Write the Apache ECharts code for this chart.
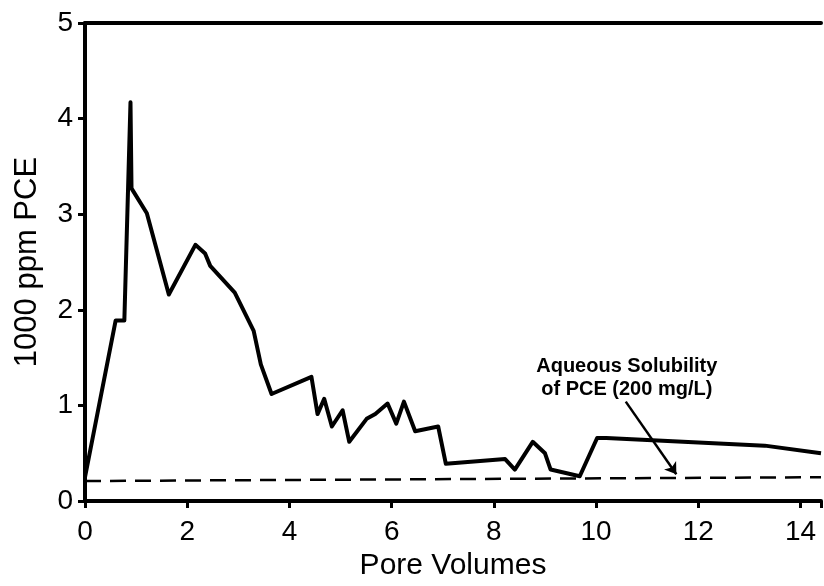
<!doctype html>
<html>
<head>
<meta charset="utf-8">
<script src="https://cdn.jsdelivr.net/npm/echarts@6/dist/echarts.min.js"></script>
<style>
    html, body {margin: 0;padding: 0;background: #fff;}
    #chart {width: 824px;height: 586px;}
</style>
</head>
<body>
<div id="chart"></div>
<script>
    // pore volumes vs PCE concentration (1000 ppm)
    var poreVolumes = [0, 0.6, 0.77, 0.89, 0.91, 1.21, 1.64, 2.16, 2.35, 2.45, 2.93, 3.30, 3.44, 3.65,
        4.43, 4.55, 4.68, 4.83, 5.04, 5.17, 5.51, 5.68, 5.92, 6.09, 6.24, 6.46, 6.91, 7.06,
        8.22, 8.41, 8.76, 9.0, 9.11, 9.68, 10.02, 10.2, 13.3, 14.4];
    var pce = [0.25, 1.89, 1.89, 4.17, 3.27, 3.01, 2.16, 2.68, 2.59, 2.46, 2.18, 1.78, 1.43, 1.12,
        1.30, 0.91, 1.07, 0.78, 0.95, 0.62, 0.86, 0.91, 1.02, 0.81, 1.04, 0.73, 0.78, 0.39,
        0.44, 0.33, 0.62, 0.50, 0.33, 0.26, 0.66, 0.66, 0.58, 0.50];
    // aqueous solubility line (200 mg/L)
    var solX = [0, 14.4];
    var solY = [0.21, 0.25];
    var xTicks = [0, 2, 4, 6, 8, 10, 12, 14];
    var yTicks = [0, 1, 2, 3, 4, 5];
    var noteLines = ['Aqueous Solubility', 'of PCE (200 mg/L)'];

    var font = '"Liberation Sans", Arial, sans-serif';
    var mainData = poreVolumes.map(function (x, i) { return [x, pce[i]]; });
    var solData = solX.map(function (x, i) { return [x, solY[i]]; });

    var myChart = echarts.init(document.getElementById('chart'));
    var option = {
        backgroundColor: '#fff',
        animation: false,
        grid: {left: 85, right: 1, top: 23, bottom: 81},
        xAxis: [{
            type: 'value',
            min: 0,
            max: 14.4,
            interval: 2,
            name: 'Pore Volumes',
            nameLocation: 'middle',
            nameGap: 48,
            nameTextStyle: {color: '#000', fontSize: 30, fontFamily: font},
            axisLine: {lineStyle: {color: '#000', width: 4}},
            axisTick: {show: true, length: 7, lineStyle: {color: '#000', width: 3}},
            axisLabel: {
                color: '#000', fontSize: 28, fontFamily: font, margin: 17,
                formatter: function (v) { return xTicks.indexOf(v) >= 0 ? String(v) : ''; }
            },
            splitLine: {show: false}
        }, {
            type: 'value',
            position: 'top',
            min: 0,
            max: 14.4,
            axisLine: {show: true, lineStyle: {color: '#000', width: 4}},
            axisTick: {show: false},
            axisLabel: {show: false},
            splitLine: {show: false}
        }],
        yAxis: {
            type: 'value',
            min: 0,
            max: 5,
            interval: 1,
            name: '1000 ppm PCE',
            nameLocation: 'middle',
            nameGap: 42,
            nameTextStyle: {color: '#000', fontSize: 31, fontFamily: font},
            axisLine: {show: true, lineStyle: {color: '#000', width: 4}},
            axisTick: {show: true, length: 7, lineStyle: {color: '#000', width: 3}},
            axisLabel: {
                color: '#000', fontSize: 28, fontFamily: font, margin: 12,
                formatter: function (v) { return yTicks.indexOf(v) >= 0 ? String(v) : ''; }
            },
            splitLine: {show: false}
        },
        series: [{
            type: 'line',
            data: mainData,
            showSymbol: false,
            lineStyle: {color: '#000', width: 4, join: 'round'},
            z: 3
        }, {
            type: 'line',
            data: solData,
            showSymbol: false,
            lineStyle: {color: '#000', width: 2.5, type: [16, 9]},
            markLine: {
                silent: true,
                symbol: ['none', 'arrow'],
                symbolSize: 11,
                label: {show: false},
                lineStyle: {color: '#000', width: 2.5, type: 'solid'},
                data: [[{coord: [10.58, 1.04]}, {coord: [11.57, 0.28]}]]
            }
        }]
    };
    myChart.setOption(option);

    // annotation text anchored in data space
    var p = myChart.convertToPixel({gridIndex: 0}, [10.6, 1.29]);
    myChart.setOption({
        graphic: [{
            type: 'text',
            x: p[0],
            y: p[1],
            style: {
                text: noteLines.join('\n'),
                fill: '#000',
                font: 'bold 20px ' + font,
                lineHeight: 23,
                align: 'center',
                verticalAlign: 'middle'
            }
        }]
    });
</script>
</body>
</html>
